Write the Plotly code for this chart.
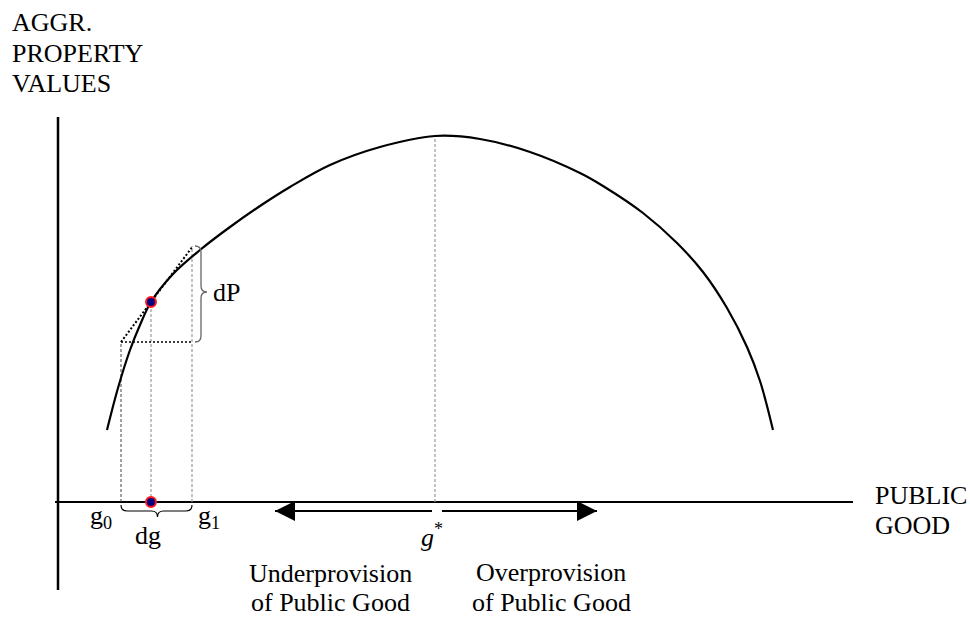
import plotly.graph_objects as go

# curve (public good, aggregate property value)
curve_g = [107, 118, 130, 140, 151, 173, 200, 230, 263, 290, 330, 380, 435,
           480, 530, 580, 603, 643, 677, 703, 727, 747, 760, 773]
curve_p = [189, 231, 269, 294, 317, 345, 369, 392, 415, 432, 454, 472, 483,
           480, 467, 446, 433, 406, 376, 347, 311, 272, 238, 189]

# marked points
g0, g_mid, g1, g_star = 121, 151, 192, 435
p0, p_mid, p1, p_star = 277, 317, 373, 483

# axes
axis_origin = [58, 117]
axis_x_end = 853
axis_y_top = 502
axis_y_bottom = 29

# arrows below the axis
arrow_level = 108
arrow_left = [275, 432]
arrow_right = [442, 597]

FONT = "Liberation Serif, Times New Roman, serif"
fig = go.Figure()


def seg(x, y, color="black", width=2, dash="solid"):
    fig.add_trace(go.Scatter(x=x, y=y, mode="lines", hoverinfo="skip",
                             line=dict(color=color, width=width, dash=dash)))


# axes
seg([axis_origin[0] - 3, axis_x_end], [axis_origin[1]] * 2, width=2)
seg([axis_origin[0]] * 2, [axis_y_bottom, axis_y_top], width=2.5)

# guide lines
seg([g_star] * 2, [axis_origin[1], p_star], color="#9a9a9a", width=1.2, dash="3px,2px")
seg([g0] * 2, [axis_origin[1], p0], color="#444", width=1, dash="3px,2px")
seg([g_mid] * 2, [axis_origin[1], p_mid], color="#9a9a9a", width=1.2, dash="3px,2px")
seg([g1] * 2, [axis_origin[1], p1], color="#9a9a9a", width=1.2, dash="3px,2px")
seg([g0, g1], [p0, p0], color="black", width=1.5, dash="2px,2px")
seg([g0, g1 + 1], [p0, p1], color="black", width=2, dash="2px,2px")

# curve
fig.add_trace(go.Scatter(x=curve_g, y=curve_p, mode="lines", hoverinfo="skip",
                         line=dict(color="black", width=2.2, shape="spline", smoothing=1.0)))

# points
fig.add_trace(go.Scatter(x=[g_mid, g_mid], y=[p_mid, axis_origin[1]], mode="markers",
                         hoverinfo="skip",
                         marker=dict(size=10, color="#000080", line=dict(color="#ff1a1a", width=2))))

# arrow shafts
seg(arrow_left, [arrow_level] * 2, width=2)
seg(arrow_right, [arrow_level] * 2, width=2)

shapes = []
# arrow heads
ah, aw = 20, 10
shapes.append(dict(type="path", xref="x", yref="y", fillcolor="black", line=dict(width=0),
                   path=f"M{arrow_left[0]},{arrow_level} L{arrow_left[0] + ah},{arrow_level + aw} "
                        f"L{arrow_left[0] + ah},{arrow_level - aw} Z"))
shapes.append(dict(type="path", xref="x", yref="y", fillcolor="black", line=dict(width=0),
                   path=f"M{arrow_right[1]},{arrow_level} L{arrow_right[1] - ah},{arrow_level + aw} "
                        f"L{arrow_right[1] - ah},{arrow_level - aw} Z"))

# brace for dP
bx, bw, r = g1 + 3, 6, 6
ym = (p0 + p1) / 2 + 2
shapes.append(dict(type="path", xref="x", yref="y", line=dict(color="#666", width=1.3),
                   path=f"M{bx},{p1} Q{bx + bw},{p1} {bx + bw},{p1 - r} L{bx + bw},{ym + r} "
                        f"Q{bx + bw},{ym} {bx + 2 * bw},{ym} Q{bx + bw},{ym} {bx + bw},{ym - r} "
                        f"L{bx + bw},{p0 + r} Q{bx + bw},{p0} {bx},{p0}"))
# brace for dg
by, bh = axis_origin[1] - 3, 6
xm = (g0 + g1) / 2 + 1
shapes.append(dict(type="path", xref="x", yref="y", line=dict(color="black", width=1.2),
                   path=f"M{g0},{by} Q{g0},{by - bh} {g0 + r},{by - bh} L{xm - r},{by - bh} "
                        f"Q{xm},{by - bh} {xm},{by - 2 * bh} Q{xm},{by - bh} {xm + r},{by - bh} "
                        f"L{g1 - r},{by - bh} Q{g1},{by - bh} {g1},{by}"))


def label(text, x, y, anchor="left", size=26):
    fig.add_annotation(x=x, y=y, xref="x", yref="y", text=text, showarrow=False,
                       xanchor=anchor, yanchor="middle",
                       font=dict(family=FONT, size=size, color="black"))


label("AGGR.", 10, 597)
label("PROPERTY", 10, 566)
label("VALUES", 10, 536)
label("PUBLIC", 873, 124)
label("GOOD", 873, 94)
label("dP", 211, 327)
label("dg", 148, 84, anchor="center")
label("g<sub>0</sub>", 88, 102)
label("g<sub>1</sub>", 196, 102)
label("<i>g</i><sup>*</sup>", 432, 84, anchor="center")
label("Underprovision", 330, 46, anchor="center")
label("of Public Good", 330, 17, anchor="center")
label("Overprovision", 551, 47, anchor="center")
label("of Public Good", 551, 17, anchor="center")

fig.update_layout(
    width=970, height=619, margin=dict(l=0, r=0, t=0, b=0),
    paper_bgcolor="white", plot_bgcolor="white", showlegend=False,
    xaxis=dict(range=[0, 970], visible=False, fixedrange=True),
    yaxis=dict(range=[0, 619], visible=False, fixedrange=True),
    shapes=shapes,
)
fig.write_html("out.html", config={"displayModeBar": False},
               post_script="document.body.style.margin='0';")
